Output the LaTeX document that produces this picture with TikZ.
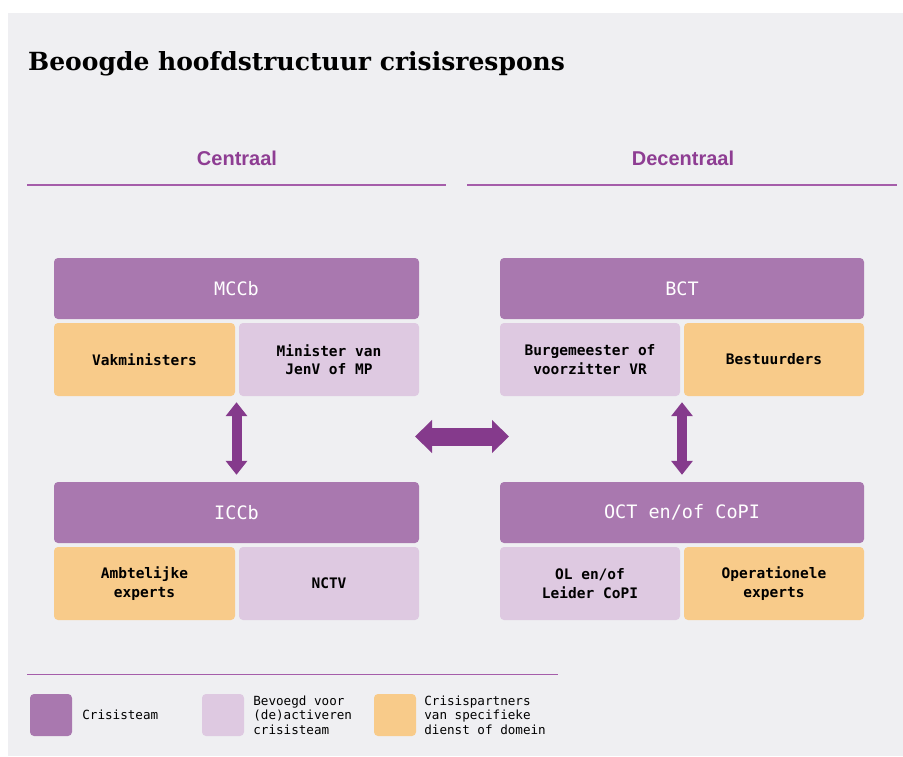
\documentclass[tikz,border=0pt]{standalone}
\usepackage{fontspec}
\usepackage{xcolor}
\usetikzlibrary{arrows.meta,positioning}
\newfontfamily\titelfont{DejaVu Serif}
\newfontfamily\kopfont{Liberation Sans}
\newfontfamily\monofont{DejaVu Sans Mono}
\definecolor{paneel}{HTML}{EFEFF2}
\definecolor{teamkleur}{HTML}{A978AF}
\definecolor{bevoegdkleur}{HTML}{DEC9E1}
\definecolor{partnerkleur}{HTML}{F8CB8A}
\definecolor{pijlkleur}{HTML}{853A8C}
\definecolor{kopkleur}{HTML}{8E3D93}
\definecolor{lijnkleur}{HTML}{A55DAA}

\begin{document}
\begin{tikzpicture}[x=1pt, y=-1pt,
  blok/.style={rounded corners=4pt, inner sep=0pt, align=center},
  team/.style={blok, fill=teamkleur, text=white, minimum height=61pt,
    font=\monofont\fontsize{18.5}{22}\selectfont},
  bevoegd/.style={blok, fill=bevoegdkleur, minimum width=180pt, minimum height=73pt,
    font=\monofont\bfseries\fontsize{14.5}{18.5}\selectfont},
  partner/.style={bevoegd, fill=partnerkleur},
  kop/.style={font=\kopfont\bfseries\fontsize{20}{24}\selectfont, text=kopkleur},
  scheiding/.style={draw=lijnkleur, line width=1.6pt},
  vpijl/.style={draw=pijlkleur, line width=10pt,
    {Triangle[width=21pt,length=14pt]}-{Triangle[width=21pt,length=14pt]}},
  hpijl/.style={draw=pijlkleur, line width=18pt,
    {Triangle[width=32pt,length=17pt]}-{Triangle[width=32pt,length=17pt]}},
  legvak/.style={rounded corners=4pt, minimum width=42pt, minimum height=42pt, inner sep=0pt},
  legtekst/.style={anchor=west, align=left, inner sep=0pt,
    font=\monofont\fontsize{12.6}{14.5}\selectfont}]
\useasboundingbox (0,0) rectangle (903,756);
\fill[white] (0,0) rectangle (903,756);
\fill[paneel] (8,13) rectangle (903,756);

% titel
\node[anchor=base west, inner sep=0pt, font=\titelfont\bfseries\fontsize{25}{30}\selectfont]
  (titel) at (28,70) {Beoogde hoofdstructuur crisisrespons};

% kolomkoppen
\node[kop] (centraal) at (237,158) {Centraal};
\node[kop] (decentraal) at (683,158) {Decentraal};
\coordinate (cl) at (27,185);
\coordinate (cr) at (446,185);
\coordinate (dl) at (467,185);
\coordinate (dr) at (897,185);
\draw[scheiding] (cl) -- (cr);
\draw[scheiding] (dl) -- (dr);

% centraal
\node[team, minimum width=365pt] (mccb) at (236.5,288.5) {MCCb};
\node[partner, minimum width=181pt] (vak) at (144.5,359.5) {Vakministers};
\node[bevoegd] (jenv) at (329,359.5) {Minister van\\JenV of MP};
\node[team, minimum width=365pt] (iccb) at (236.5,512.5) {ICCb};
\node[partner, minimum width=181pt] (ambt) at (144.5,583.5) {Ambtelijke\\experts};
\node[bevoegd] (nctv) at (329,583.5) {NCTV};

% decentraal
\node[team, minimum width=364pt] (bct) at (682,288.5) {BCT};
\node[bevoegd] (burg) at (590,359.5) {Burgemeester of\\voorzitter VR};
\node[partner] (best) at (774,359.5) {Bestuurders};
\node[team, minimum width=364pt] (oct) at (682,512.5) {OCT en/of CoPI};
\node[bevoegd] (ol) at (590,583.5) {OL en/of\\Leider CoPI};
\node[partner] (oper) at (774,583.5) {Operationele\\experts};

% pijlen
\draw[vpijl, shorten <=6pt, shorten >=7pt] (iccb.north |- vak.south) -- (iccb.north);
\draw[vpijl, shorten <=6pt, shorten >=7pt] (oct.north |- best.south) -- (oct.north);
\coordinate (hl) at (415,436.5);
\coordinate (hr) at (509,436.5);
\draw[hpijl] (hl) -- (hr);

% legenda
\coordinate (ll) at (27,674);
\coordinate (lr) at (558,674);
\draw[draw=lijnkleur, line width=1pt] (ll) -- (lr);
\node[legvak, fill=teamkleur] (legteam) at (51,715) {};
\node[legtekst, right=10pt of legteam] (legteamtxt) {Crisisteam};
\node[legvak, fill=bevoegdkleur] (legbev) at (223,715) {};
\node[legtekst, right=9pt of legbev] (legbevtxt) {Bevoegd voor\\(de)activeren\\crisisteam};
\node[legvak, fill=partnerkleur] (legpart) at (395,715) {};
\node[legtekst, right=8pt of legpart] (legparttxt) {Crisispartners\\van specifieke\\dienst of domein};
\end{tikzpicture}
\end{document}
